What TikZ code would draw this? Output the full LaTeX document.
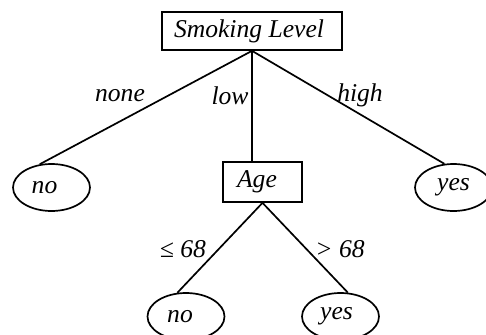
\documentclass[tikz,border=0pt]{standalone}
\usepackage{fontspec}
\setmainfont{Liberation Serif}
\usetikzlibrary{shapes.geometric}
\begin{document}
\begin{tikzpicture}[x=1pt,y=-1pt,
  every node/.style={font=\fontsize{25.6}{30}\selectfont\itshape},
  boxnode/.style={draw,line width=1.7pt,inner sep=0pt},
  leafnode/.style={draw,ellipse,line width=1.7pt,inner sep=0pt,minimum width=77pt,minimum height=47pt},
  lbl/.style={inner sep=0pt},
  edge/.style={line width=1.7pt}]
\useasboundingbox (0,0) rectangle (486,334);
\clip (0,0) rectangle (486,334);
\node[boxnode,minimum width=180pt,minimum height=38pt] (sl) at (252,31) {Smoking Level\kern6pt};
\node[boxnode,minimum width=79pt,minimum height=40pt] (age) at (262.5,182) {Age\kern11pt};
\node[leafnode] (no1) at (51.5,187.5) {no\kern14pt};
\node[leafnode] (yes1) at (453.5,187.5) {yes};
\node[leafnode] (no2) at (186,316.5) {no\kern12pt};
\node[leafnode] (yes2) at (340.5,316.5) {yes\kern8pt};
\draw[edge] (sl.south) -- (no1.117);
\draw[edge] (sl.south) -- (sl.south |- age.north);
\draw[edge] (sl.south) -- (yes1.111);
\draw[edge] (age.south) -- (no2.110);
\draw[edge] (age.south) -- (yes2.73);
\node[lbl] (lnone) at (120,96) {none};
\node[lbl] (llow) at (230,96) {low};
\node[lbl] (lhigh) at (360,95) {high};
\node[lbl] (lle) at (183,249) {≤ 68};
\node[lbl] (lgt) at (340,249) {> 68};
\end{tikzpicture}
\end{document}
